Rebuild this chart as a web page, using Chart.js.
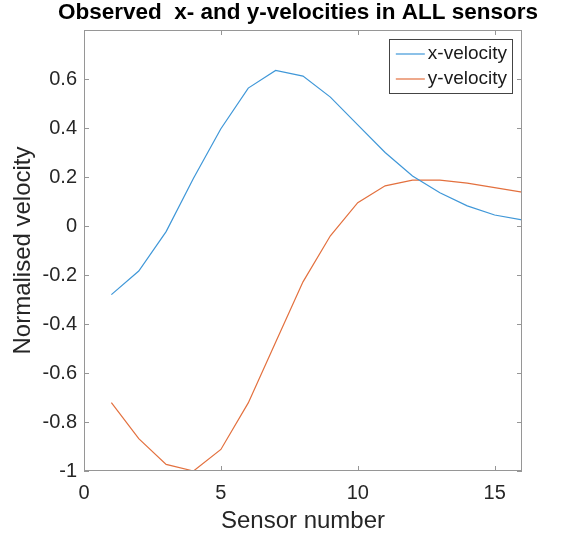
<!DOCTYPE html>
<html>
<head>
<meta charset="utf-8">
<script src="https://cdn.jsdelivr.net/npm/chart.js@4.4.1/dist/chart.umd.min.js"></script>
<style>
  body { margin: 0; background: #fff; }
  canvas { display: block; }
</style>
</head>
<body>
<canvas id="myChart" width="568" height="541"></canvas>
<script>
// chart data
const sensors = [1, 2, 3, 4, 5, 6, 7, 8, 9, 10, 11, 12, 13, 14, 15, 16];
const xVelocity = [-0.28, -0.184, -0.023, 0.195, 0.397, 0.563, 0.635, 0.612, 0.526, 0.413, 0.30, 0.204, 0.136, 0.082, 0.045, 0.025];
const yVelocity = [-0.721, -0.868, -0.973, -1.0, -0.912, -0.722, -0.474, -0.228, -0.04, 0.095, 0.164, 0.187, 0.187, 0.175, 0.157, 0.138];
const xTicks = [0, 5, 10, 15];
const yTicks = [-1, -0.8, -0.6, -0.4, -0.2, 0, 0.2, 0.4, 0.6];

const titleText = "Observed  x- and y-velocities in ALL sensors";
const axisColor = "#969696";
const fontFamily = "'Liberation Sans', Arial, Helvetica, sans-serif";

// matlab-like box with inward ticks, title and legend
const matlabStyle = {
  id: "matlabStyle",
  afterDraw(chart) {
    const { ctx, chartArea: a, scales } = chart;
    ctx.save();
    ctx.strokeStyle = axisColor;
    ctx.lineWidth = 1;
    ctx.strokeRect(a.left + 0.5, a.top + 0.5, a.right - a.left - 1, a.bottom - a.top - 1);

    ctx.beginPath();
    scales.x.ticks.forEach(t => {
      const px = Math.round(scales.x.getPixelForValue(t.value)) + 0.5;
      ctx.moveTo(px, a.bottom); ctx.lineTo(px, a.bottom - 5);
      ctx.moveTo(px, a.top); ctx.lineTo(px, a.top + 5);
    });
    scales.y.ticks.forEach(t => {
      const py = Math.round(scales.y.getPixelForValue(t.value)) + 0.5;
      ctx.moveTo(a.left, py); ctx.lineTo(a.left + 5, py);
      ctx.moveTo(a.right, py); ctx.lineTo(a.right - 5, py);
    });
    ctx.stroke();

    // title
    ctx.fillStyle = "#000";
    ctx.font = "bold 22.5px " + fontFamily;
    ctx.textAlign = "center";
    ctx.textBaseline = "middle";
    ctx.fillText(titleText, (a.left + a.right) / 2 - 5, 13);

    // legend
    ctx.font = "19px " + fontFamily;
    const labels = chart.data.datasets.map(d => d.label);
    const textW = Math.max(...labels.map(l => ctx.measureText(l).width));
    const boxW = 39 + textW + 5;
    const boxR = a.right - 10;
    const boxL = boxR - boxW;
    const boxT = a.top + 9;
    const rowH = 25;
    const boxH = 54;
    ctx.fillStyle = "#fff";
    ctx.fillRect(boxL, boxT, boxW, boxH);
    ctx.strokeStyle = "#444";
    ctx.strokeRect(Math.round(boxL) + 0.5, boxT + 0.5, Math.round(boxW), boxH);
    chart.data.datasets.forEach((d, i) => {
      const yy = boxT + 15 + i * rowH;
      ctx.strokeStyle = d.borderColor;
      ctx.lineWidth = 1.2;
      ctx.beginPath();
      ctx.moveTo(boxL + 7, yy);
      ctx.lineTo(boxL + 36, yy);
      ctx.stroke();
      ctx.fillStyle = "#1a1a1a";
      ctx.textAlign = "left";
      ctx.fillText(d.label, boxL + 39, yy);
    });
    ctx.restore();
  }
};

const ctx = document.getElementById("myChart").getContext("2d");
const chart = new Chart(ctx, {
  type: "line",
  data: {
    datasets: [
      {
        label: "x-velocity",
        data: sensors.map((s, i) => ({ x: s, y: xVelocity[i] })),
        borderColor: "#3f97d8",
        borderWidth: 1.2,
        pointRadius: 0,
        tension: 0,
        fill: false,
      },
      {
        label: "y-velocity",
        data: sensors.map((s, i) => ({ x: s, y: yVelocity[i] })),
        borderColor: "#e3703e",
        borderWidth: 1.2,
        pointRadius: 0,
        tension: 0,
        fill: false,
      },
    ],
  },
  options: {
    responsive: false,
    animation: false,
    devicePixelRatio: 1,
    layout: { padding: { left: 0, right: 46, top: 30, bottom: 0 } },
    plugins: {
      legend: { display: false },
      tooltip: { enabled: false },
      title: { display: false },
    },
    scales: {
      x: {
        type: "linear",
        min: 0,
        max: 16,
        afterBuildTicks: (scale) => { scale.ticks = xTicks.map(v => ({ value: v })); },
        afterFit: (scale) => { scale.height = 70; },
        grid: { display: false, drawTicks: false },
        border: { display: false },
        ticks: {
          color: "#262626",
          font: { family: fontFamily, size: 20 },
          padding: 10,
          maxRotation: 0,
          callback: (v) => String(v),
        },
        title: {
          display: true,
          text: "Sensor number",
          color: "#262626",
          font: { family: fontFamily, size: 24 },
          padding: { top: 0, bottom: 5 },
        },
      },
      y: {
        type: "linear",
        min: -1,
        max: 0.8,
        afterBuildTicks: (scale) => { scale.ticks = yTicks.map(v => ({ value: v })); },
        afterFit: (scale) => { scale.width = 84; },
        grid: { display: false, drawTicks: false },
        border: { display: false },
        ticks: {
          color: "#262626",
          font: { family: fontFamily, size: 20 },
          padding: 7,
          callback: (v) => String(Number(v.toFixed(1))),
        },
        title: {
          display: true,
          text: "Normalised velocity",
          color: "#262626",
          font: { family: fontFamily, size: 24 },
          padding: { top: 9, bottom: 0 },
        },
      },
    },
  },
  plugins: [matlabStyle],
});
</script>
</body>
</html>
